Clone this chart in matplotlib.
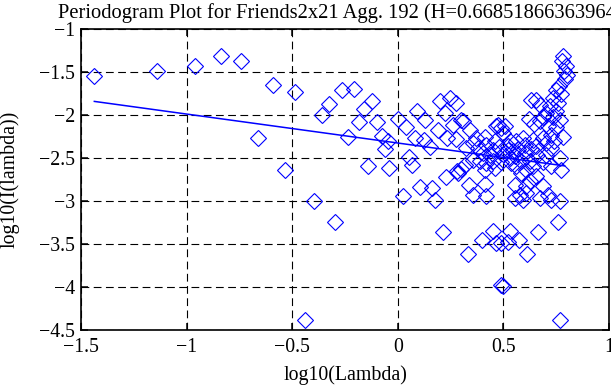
import matplotlib
matplotlib.use("Agg")
import matplotlib.pyplot as plt

plt.rcParams['font.family'] = ['Liberation Serif', 'DejaVu Serif']

# periodogram points, log10(lambda) vs log10(I(lambda))
log_lambda = [
    -1.437, -1.139, -0.961, -0.836, -0.742, -0.661, -0.593, -0.535, -0.486, -0.440,
    -0.398, -0.360, -0.325, -0.298, -0.262,
    -0.208, -0.120, -0.159, -0.185, -0.098, -0.235, -0.074, -0.046, -0.062, -0.141,
    -0.041, 0.001, 0.038, 0.091, 0.128, 0.080, 0.125, 0.151, 0.191, 0.199,
    0.246, 0.274, 0.222, 0.262, 0.233, 0.274, 0.052, 0.065, 0.025, 0.104,
    0.164, 0.175, 0.230, 0.278, 0.215,
    0.782, 0.778, 0.798, 0.787, 0.801, 0.790, 0.763, 0.748, 0.775, 0.735,
    0.759, 0.719, 0.748, 0.704, 0.688, 0.735, 0.767, 0.656, 0.633, 0.672,
    0.621, 0.644, 0.675, 0.711, 0.751, 0.782, 0.727, 0.688, 0.640, 0.593,
    0.562, 0.601, 0.656, 0.727, 0.704, 0.767, 0.491, 0.475, 0.498, 0.530,
    0.522, 0.554, 0.585, 0.625, 0.640, 0.609, 0.688, 0.727, 0.775, 0.562,
    0.538, 0.585, 0.656, 0.625, 0.554, 0.609, 0.688, 0.577, 0.609, 0.554,
    0.672, 0.711, 0.767, 0.727, 0.593,
    0.298, 0.309, 0.341, 0.372, 0.412, 0.356, 0.325, 0.380, 0.420, 0.451,
    0.435, 0.404, 0.317, 0.301, 0.286, 0.356, 0.388, 0.420, 0.451, 0.412,
    0.338, 0.412, 0.356, 0.420, 0.467, 0.506,
    0.460, 0.480, 0.500, 0.520, 0.545, 0.570, 0.600, 0.630, 0.660, 0.700,
    0.740, 0.530, 0.490, 0.460,
    0.333, 0.451, 0.401, 0.467, 0.491, 0.530, 0.522, 0.573, 0.612, 0.664,
    0.759, 0.491, 0.498, 0.767,
]
log_power = [
    -1.55, -1.49, -1.435, -1.31, -1.377, -2.268, -1.656, -2.636, -1.733, -4.388,
    -2.997, -2.005, -1.869, -3.25, -1.706,
    -1.694, -1.834, -1.930, -2.086, -2.086, -2.260, -2.241, -2.307, -2.395, -2.590,
    -2.617, -2.047, -2.144, -1.958, -2.063, -2.268, -2.287, -2.372, -2.179, -1.834,
    -1.802, -1.861, -1.977, -2.113, -2.268, -2.279, -2.493, -2.578, -2.946, -2.842,
    -2.849, -2.985, -2.726, -2.656, -3.360,
    -1.310, -1.377, -1.435, -1.493, -1.531, -1.581, -1.667, -1.714, -1.756, -1.802,
    -1.861, -1.900, -1.958, -1.977, -2.023, -2.023, -2.055, -1.822, -1.822, -1.880,
    -2.047, -2.101, -2.074, -2.133, -2.140, -2.256, -2.229, -2.268, -2.287, -2.268,
    -2.307, -2.345, -2.365, -2.384, -2.462, -2.500, -2.151, -2.113, -2.209, -2.307,
    -2.404, -2.481, -2.540, -2.540, -2.598, -2.636, -2.552, -2.598, -2.636, -2.598,
    -2.559, -2.675, -2.714, -2.772, -2.810, -2.830, -2.830, -2.927, -2.907, -2.965,
    -2.965, -2.927, -3.005, -2.985, -2.985,
    -2.055, -2.066, -2.171, -2.268, -2.256, -2.326, -2.384, -2.384, -2.345, -2.404,
    -2.462, -2.442, -2.578, -2.628, -2.675, -2.520, -2.540, -2.559, -2.540, -2.636,
    -2.810, -2.799, -2.927, -2.946, -2.133, -2.133,
    -2.30, -2.37, -2.45, -2.36, -2.42, -2.40, -2.44, -2.40, -2.47, -2.33,
    -2.30, -2.50, -2.55, -2.62,
    -3.616, -3.345, -3.458, -3.488, -3.488, -3.345, -3.481, -3.458, -3.616, -3.360,
    -3.249, -3.981, -3.993, -4.388,
]

# least squares fit line endpoints
fit_x = [-1.437, 0.79]
fit_y = [-1.842, -2.592]

x_ticks = [-1.5, -1, -0.5, 0, 0.5, 1]
x_labels = ['\u22121.5', '\u22121', '\u22120.5', '0', '0.5', '1']
y_ticks = [-4.5, -4, -3.5, -3, -2.5, -2, -1.5, -1]
y_labels = ['\u22124.5', '\u22124', '\u22123.5', '\u22123', '\u22122.5', '\u22122', '\u22121.5', '\u22121']

fig = plt.figure(figsize=(6.11, 3.85), dpi=100)
ax = fig.add_axes([0.1326, 0.1429, 0.8641, 0.7818])

ax.plot(log_lambda, log_power, linestyle='none', marker='D', markersize=7.8,
        markerfacecolor='none', markeredgecolor='#0000ff', markeredgewidth=0.8)
ax.plot(fit_x, fit_y, color='#0000ff', linewidth=1.1)

ax.set_xlim(-1.5, 1)
ax.set_ylim(-4.5, -1)
ax.set_xticks(x_ticks)
ax.set_xticklabels(x_labels)
ax.set_yticks(y_ticks)
ax.set_yticklabels(y_labels)

ax.grid(True, color='black', linestyle=(0, (7, 4)), linewidth=0.8)
ax.tick_params(direction='in', length=5, width=1.1, top=True, right=True,
               labelsize=14.3, colors='black')
ax.tick_params(axis='x', pad=5.5)
ax.tick_params(axis='y', pad=4.5)
for s in ax.spines.values():
    s.set_linewidth(1.2)

ax.set_title('Periodogram Plot for Friends2x21 Agg. 192 (H=0.668518663639645)',
             fontsize=14.8, pad=8)
ax.set_xlabel('log10(Lambda)', fontsize=14.3, labelpad=6)
ax.set_ylabel('log10(I(lambda))', fontsize=14.3, labelpad=14)

fig.savefig('out.png', dpi=100)
